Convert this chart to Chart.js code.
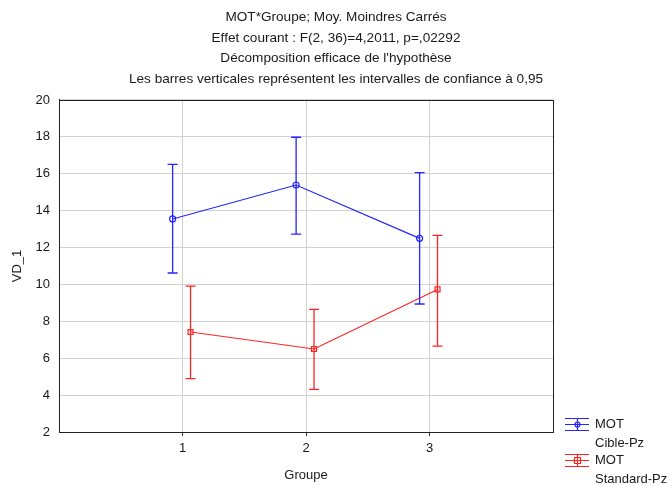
<!DOCTYPE html>
<html>
<head>
<meta charset="utf-8">
<script src="https://cdn.jsdelivr.net/npm/chart.js@4.4.1/dist/chart.umd.min.js"></script>
<style>
  html, body { margin: 0; padding: 0; background: #fff; }
  #wrap { width: 672px; height: 486px; }
</style>
</head>
<body>
<div id="wrap"><canvas id="graphe"></canvas></div>
<script>
// données
const groupes = [1, 2, 3];
const yTicks = [2, 4, 6, 8, 10, 12, 14, 16, 18, 20];
const cibleMoy = [13.55, 15.39, 12.50];
const cibleBas = [10.62, 12.73, 8.94];
const cibleHaut = [16.51, 17.98, 16.06];
const standardMoy = [7.42, 6.50, 9.73];
const standardBas = [4.89, 4.31, 6.66];
const standardHaut = [9.91, 8.65, 12.66];
const titres = [
    'MOT*Groupe; Moy. Moindres Carrés',
    'Effet courant : F(2, 36)=4,2011, p=,02292',
    "Décomposition efficace de l'hypothèse",
    'Les barres verticales représentent les intervalles de confiance à 0,95'
];

const police = '"Liberation Sans", Arial, sans-serif';
const BLEU = '#2424ff';
const ROUGE = '#ff2424';
const TEXTE = '#1a1a1a';

const legende = [
    { l1: 'MOT', l2: 'Cible-Pz', couleur: BLEU, style: 'circle' },
    { l1: 'MOT', l2: 'Standard-Pz', couleur: ROUGE, style: 'rect' }
];

function points(moy, decalage) {
    return groupes.map((g, i) => ({ x: g + decalage, y: moy[i] }));
}

// barres d'erreur (intervalles de confiance)
const barresErreur = {
    id: 'barresErreur',
    afterDatasetsDraw(chart) {
        const ctx = chart.ctx;
        const sx = chart.scales.x, sy = chart.scales.y;
        chart.data.datasets.forEach(ds => {
            ctx.save();
            ctx.strokeStyle = ds.couleur;
            ctx.lineWidth = 1.3;
            ds.data.forEach((p, i) => {
                const x = sx.getPixelForValue(p.x);
                const yb = sy.getPixelForValue(ds.bas[i]);
                const yh = sy.getPixelForValue(ds.haut[i]);
                ctx.beginPath();
                ctx.moveTo(x, yb); ctx.lineTo(x, yh);
                ctx.moveTo(x - 5, yb); ctx.lineTo(x + 5, yb);
                ctx.moveTo(x - 5, yh); ctx.lineTo(x + 5, yh);
                ctx.stroke();
            });
            ctx.restore();
        });
    }
};

// cadre autour de la zone de tracé
const cadre = {
    id: 'cadre',
    afterDraw(chart) {
        const a = chart.chartArea;
        const ctx = chart.ctx;
        ctx.save();
        ctx.strokeStyle = '#222';
        ctx.lineWidth = 1;
        ctx.strokeRect(Math.round(a.left) + 0.5, Math.round(a.top) + 0.5, Math.round(a.right - a.left), Math.round(a.bottom - a.top));
        ctx.restore();
    }
};

// légende à deux lignes en bas à droite
const legendeMaison = {
    id: 'legendeMaison',
    afterDraw(chart) {
        const ctx = chart.ctx;
        const x0 = 565, yBase = [424, 460];
        ctx.save();
        ctx.font = '13px ' + police;
        ctx.textBaseline = 'middle';
        legende.forEach((item, k) => {
            const y = yBase[k] + 0.5;
            ctx.strokeStyle = item.couleur;
            ctx.lineWidth = 1.2;
            ctx.beginPath();
            ctx.moveTo(x0, y); ctx.lineTo(x0 + 24, y);
            ctx.moveTo(x0, y - 6); ctx.lineTo(x0 + 24, y - 6);
            ctx.moveTo(x0, y + 6); ctx.lineTo(x0 + 24, y + 6);
            ctx.moveTo(x0 + 12.5, y - 6); ctx.lineTo(x0 + 12.5, y + 6);
            ctx.stroke();
            ctx.beginPath();
            if (item.style === 'circle') ctx.arc(x0 + 12.5, y, 2.5, 0, Math.PI * 2);
            else ctx.rect(x0 + 9.5, y - 3, 6, 6);
            ctx.stroke();
            ctx.fillStyle = TEXTE;
            ctx.fillText(item.l1, 595, yBase[k]);
            ctx.fillText(item.l2, 595, yBase[k] + 19);
        });
        ctx.restore();
    }
};

Chart.defaults.font.family = police;
Chart.defaults.font.size = 13;
Chart.defaults.color = TEXTE;

new Chart(document.getElementById('graphe'), {
    type: 'scatter',
    data: {
        datasets: [
            {
                label: 'MOT Cible-Pz',
                data: points(cibleMoy, -0.08),
                bas: cibleBas,
                haut: cibleHaut,
                couleur: BLEU,
                showLine: true,
                borderColor: BLEU,
                pointBorderColor: BLEU,
                backgroundColor: 'rgba(0,0,0,0)',
                borderWidth: 1.2,
                pointStyle: 'circle',
                pointRadius: 3,
                pointBorderWidth: 1.2
            },
            {
                label: 'MOT Standard-Pz',
                data: points(standardMoy, 0.065),
                bas: standardBas,
                haut: standardHaut,
                couleur: ROUGE,
                showLine: true,
                borderColor: ROUGE,
                pointBorderColor: ROUGE,
                backgroundColor: 'rgba(0,0,0,0)',
                borderWidth: 1.2,
                pointStyle: 'rect',
                pointRadius: 3.5,
                pointBorderWidth: 1.2
            }
        ]
    },
    options: {
        responsive: true,
        maintainAspectRatio: false,
        animation: false,
        devicePixelRatio: 1,
        layout: { padding: 0 },
        plugins: {
            legend: { display: false },
            tooltip: { enabled: false },
            title: {
                display: true,
                text: titres,
                font: { size: 13.6, weight: 'normal', lineHeight: 1.52 },
                color: TEXTE,
                padding: { top: 7, bottom: 10.3 }
            }
        },
        scales: {
            x: {
                type: 'linear',
                min: 0,
                max: 4,
                afterBuildTicks: s => { s.ticks = groupes.map(v => ({ value: v })); },
                afterFit: s => { s.height = 54; },
                grid: { color: '#d2d2d2', tickLength: 4, tickColor: '#333' },
                border: { color: '#222' },
                ticks: { padding: 5, color: TEXTE },
                title: { display: true, text: 'Groupe', padding: { top: 0, bottom: 3 }, color: TEXTE }
            },
            y: {
                min: 2,
                max: 20,
                afterBuildTicks: s => { s.ticks = yTicks.map(v => ({ value: v })); },
                afterFit: s => { s.width = 59; },
                grid: { color: '#d2d2d2', drawTicks: false },
                border: { color: '#222' },
                ticks: { padding: 9, color: TEXTE },
                title: { display: true, text: 'VD_1', padding: { top: 10, bottom: 0 }, color: TEXTE }
            },
            droite: {
                position: 'right',
                display: true,
                afterFit: s => { s.width = 119; },
                grid: { display: false },
                border: { display: false },
                ticks: { display: false }
            }
        }
    },
    plugins: [barresErreur, cadre, legendeMaison]
});
</script>
</body>
</html>
